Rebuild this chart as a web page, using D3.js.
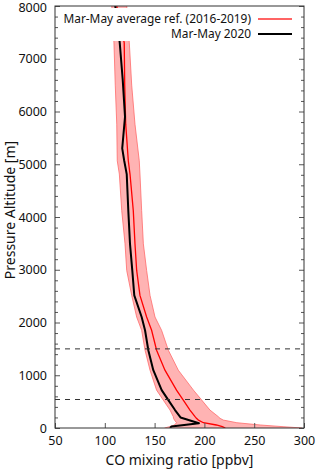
<!DOCTYPE html>
<html><head><meta charset="utf-8">
<script src="https://cdn.jsdelivr.net/npm/d3@7/dist/d3.min.js"></script>
<style>
body{margin:0;background:#fff;}
svg text{font-family:"Noto Sans","Open Sans",sans-serif;fill:#111;}
</style></head>
<body><svg id="c" width="320" height="470"></svg>
<script>
// Reference (2016-2019) profile
const refAlt  = [0, 25, 57, 100, 150, 183, 214, 340, 529, 718, 1096, 1474, 1853, 2104, 2514, 2987, 3491, 4121, 4814, 5066, 5760, 6500, 7300, 8000];
const refMean = [221, 218, 212, 199, 194, 192, 190.6, 185.5, 178.8, 172, 160.4, 152, 147, 142, 135.3, 132, 130.3, 128.6, 125.3, 123.6, 121, 120, 119.5, 112];
const refLow  = [160, 165, 170, 172, 170, 169, 168.8, 165.5, 158.7, 152, 145.4, 140.4, 137, 132, 127, 122, 120.3, 117, 114.6, 112.5, 112, 110.5, 109.2, 107];
const refHigh = [298, 279, 256, 232.6, 219, 215.7, 214, 205.6, 197.3, 189, 173.8, 163.8, 157, 150.4, 145.4, 142, 138.7, 137, 135.3, 134.6, 130.3, 127, 124.6, 122];
// Mar-May 2020 profile
const obsAlt = [0, 30, 90, 200, 340, 529, 718, 1096, 1474, 1853, 2104, 2514, 2987, 3491, 4121, 4814, 5066, 5300, 5900, 6600, 7300, 8000];
const obsCO  = [165.5, 167, 194.5, 176, 170.5, 163.8, 157.1, 148.7, 143.7, 140.4, 137, 129.6, 127.6, 125.3, 123.6, 122, 119.5, 117.5, 120.3, 118, 115, 110.5];
// Boundary-layer reference altitudes (dashed)
const hLines = [540, 1500];
// Ticks
const xTicks = [50, 100, 150, 200, 250, 300];
const yTicks = [0, 1000, 2000, 3000, 4000, 5000, 6000, 7000, 8000];
const legendLabels = ["Mar-May average ref. (2016-2019)", "Mar-May 2020"];

const L = 55, R = 304, T = 6, B = 428;
const svg = d3.select("#c");
const x = d3.scaleLinear().domain([50, 300]).range([L, R]);
const y = d3.scaleLinear().domain([0, 8000]).range([B, T]);

svg.append("clipPath").attr("id","pc").append("rect")
  .attr("x", L).attr("y", T).attr("width", R - L).attr("height", B - T);
const g = svg.append("g").attr("clip-path", "url(#pc)");

const ref = refAlt.map((a, i) => ({a, m: refMean[i], lo: refLow[i], hi: refHigh[i]}));
const obs = obsAlt.map((a, i) => ({a, v: obsCO[i]}));

g.append("path").datum(ref)
  .attr("d", d3.area().y(d => y(d.a)).x0(d => x(d.lo)).x1(d => x(d.hi)))
  .attr("fill", "#ffb3b3");
["lo", "hi"].forEach(k => {
  g.append("path").datum(ref)
    .attr("d", d3.line().y(d => y(d.a)).x(d => x(d[k])))
    .attr("fill", "none").attr("stroke", "#ff6b6b").attr("stroke-width", 0.8);
});
g.append("path").datum(ref)
  .attr("d", d3.line().y(d => y(d.a)).x(d => x(d.m)))
  .attr("fill", "none").attr("stroke", "#ff0000").attr("stroke-width", 1.3);
g.append("path").datum(obs)
  .attr("d", d3.line().y(d => y(d.a)).x(d => x(d.v)))
  .attr("fill", "none").attr("stroke", "#000").attr("stroke-width", 2).attr("stroke-linejoin","round");

// dashed lines
g.selectAll(".hl").data(hLines).enter().append("line")
  .attr("x1", L).attr("x2", R).attr("y1", d => y(d)).attr("y2", d => y(d))
  .attr("stroke", "#333").attr("stroke-width", 1).attr("stroke-dasharray", "5,5");

// legend box (opaque)
svg.append("rect").attr("x", L + 2).attr("y", 8).attr("width", 242).attr("height", 33).attr("fill", "#fff");
const lg = svg.append("g");
legendLabels.forEach((t, i) => {
  const yy = 19 + i * 15;
  lg.append("text").attr("x", 251).attr("y", yy + 4).attr("text-anchor", "end")
    .attr("font-size", 11.9).text(t);
  lg.append("line").attr("x1", 258).attr("x2", 292).attr("y1", yy).attr("y2", yy)
    .attr("stroke", i === 0 ? "#ff3030" : "#000").attr("stroke-width", i === 0 ? 1.5 : 2);
});

// axes
const ax = svg.append("g");
const minor = d3.range(0, 8001, 200).filter(v => v % 1000);
ax.append("g").attr("transform", `translate(0,${B})`)
  .call(d3.axisBottom(x).tickValues(xTicks).tickSize(-5).tickPadding(8).tickFormat(d3.format("d")))
  .call(s => s.select(".domain").remove());
ax.append("g").attr("transform", `translate(${L},0)`)
  .call(d3.axisLeft(y).tickValues(yTicks).tickSize(-5).tickPadding(8).tickFormat(d3.format("d")))
  .call(s => s.select(".domain").remove())
  .call(s => s.selectAll(".tick text").filter(d => d === 8000).attr("dy", "0.45em"));
ax.append("g").attr("transform", `translate(${L},0)`)
  .call(d3.axisLeft(y).tickValues(minor).tickSize(-3).tickFormat(""))
  .call(s => s.select(".domain").remove());
ax.append("g").attr("transform", `translate(${R},0)`)
  .call(d3.axisRight(y).tickValues(yTicks).tickSize(-5).tickFormat(""))
  .call(s => s.select(".domain").remove());
ax.append("g").attr("transform", `translate(${R},0)`)
  .call(d3.axisRight(y).tickValues(minor).tickSize(-3).tickFormat(""))
  .call(s => s.select(".domain").remove());
ax.selectAll(".tick line").attr("stroke", "#555");
ax.selectAll(".tick text").attr("font-size", 12.5).attr("fill", "#111")
  .style("font-family", '"Noto Sans","Open Sans",sans-serif');

svg.append("rect").attr("x", L).attr("y", T).attr("width", R - L).attr("height", B - T)
  .attr("fill", "none").attr("stroke", "#333").attr("stroke-width", 1);

svg.append("text").attr("x", (L + R) / 2).attr("y", 465).attr("text-anchor", "middle")
  .attr("font-size", 14).text("CO mixing ratio [ppbv]");
svg.append("text").attr("transform", `translate(15,210) rotate(-90)`)
  .attr("text-anchor", "middle").attr("font-size", 14).text("Pressure Altitude [m]");
</script></body></html>
